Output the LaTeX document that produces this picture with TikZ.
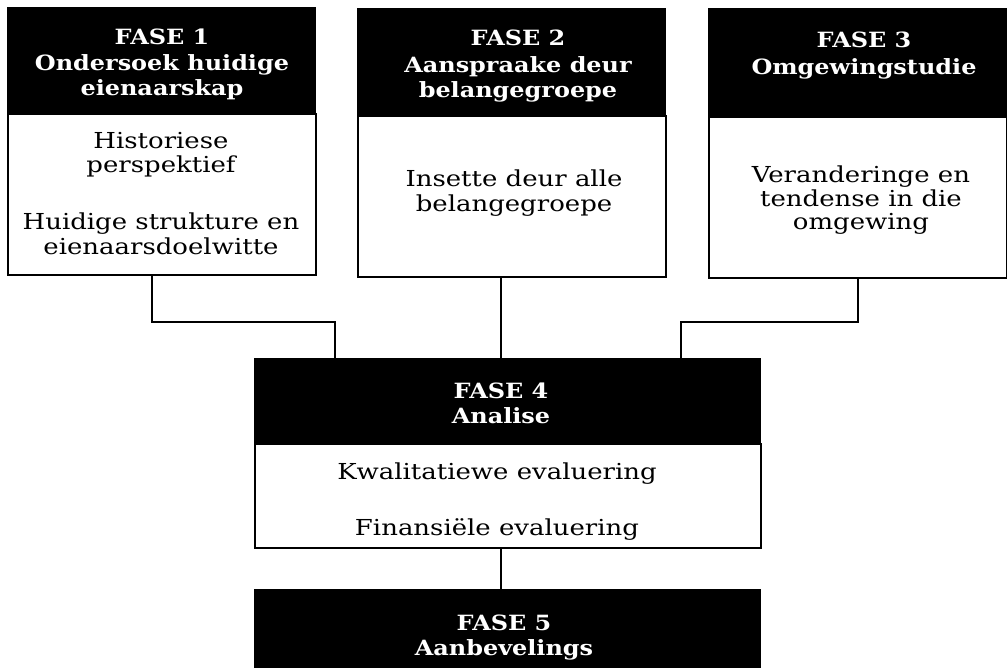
\documentclass[tikz,border=0pt]{standalone}
\usepackage{fontspec}
\setmainfont{DejaVu Serif}
\newfontfamily\headfam{DejaVu Serif}[FakeStretch=1.14]
\newfontfamily\bodyfam{DejaVu Serif}[FakeStretch=1.18]
\newcommand\headfont{\headfam\fontsize{21}{25}\selectfont\bfseries}
\newcommand\bodyfont{\bodyfam\fontsize{22}{25}\selectfont}
\tikzset{
  hdr/.style={draw=black, fill=black, line width=1.2pt, anchor=north west, inner sep=0pt},
  bodybox/.style={draw=black, fill=white, line width=1.8pt, anchor=north west, inner sep=0pt},
  htxt/.style={text=white, font=\headfont, anchor=base, inner sep=0pt},
  btxt/.style={text=black, font=\bodyfont, anchor=base, inner sep=0pt},
  conn/.style={draw=black, line width=1.8pt}
}
\begin{document}
\begin{tikzpicture}[x=1pt, y=-1pt]
\useasboundingbox (0,0) rectangle (1007,668);

% --- phase 1 ---
\node[hdr, minimum width=308pt, minimum height=106pt] (h1) at (7,7) {};
\node[bodybox, minimum width=308pt, minimum height=161pt] (b1) at (7,113) {};
\node[htxt] (h1a) at (162,45) {FASE 1};
\node[htxt] (h1b) at (162,71) {Ondersoek huidige};
\node[htxt] (h1c) at (162,96) {eienaarskap};
\node[btxt] (b1a) at (161,149) {Historiese};
\node[btxt] (b1b) at (161,173) {perspektief};
\node[btxt] (b1c) at (161,230) {Huidige strukture en};
\node[btxt] (b1d) at (161,255) {eienaarsdoelwitte};

% --- phase 2 ---
\node[hdr, minimum width=308pt, minimum height=107pt] (h2) at (357,8) {};
\node[bodybox, minimum width=308pt, minimum height=161pt] (b2) at (357,115) {};
\node[htxt] (h2a) at (518,46) {FASE 2};
\node[htxt] (h2b) at (518,73) {Aanspraake deur};
\node[htxt] (h2c) at (518,98) {belangegroepe};
\node[btxt] (b2a) at (514,187) {Insette deur alle};
\node[btxt] (b2b) at (514,212) {belangegroepe};

% --- phase 3 ---
\node[hdr, minimum width=298pt, minimum height=108pt] (h3) at (708,8) {};
\node[bodybox, minimum width=298pt, minimum height=161pt] (b3) at (708,116) {};
\node[htxt] (h3a) at (864,48) {FASE 3};
\node[htxt] (h3b) at (864,75) {Omgewingstudie};
\node[btxt] (b3a) at (861,183) {Veranderinge en};
\node[btxt] (b3b) at (861,207) {tendense in die};
\node[btxt] (b3c) at (861,230) {omgewing};

% --- phase 4 ---
\node[hdr, minimum width=506pt, minimum height=85pt] (h4) at (254,358) {};
\node[bodybox, minimum width=506pt, minimum height=104pt] (b4) at (254,443) {};
\node[htxt] (h4a) at (501,398) {FASE 4};
\node[htxt] (h4b) at (501,423) {Analise};
\node[btxt] (b4a) at (497,479) {Kwalitatiewe evaluering};
\node[btxt] (b4b) at (497,535) {Finansiële evaluering};

% --- phase 5 ---
\node[hdr, minimum width=506pt, minimum height=85pt] (h5) at (254,589) {};
\node[htxt] (h5a) at (504,630) {FASE 5};
\node[htxt] (h5b) at (504,655) {Aanbevelings};

% --- connectors ---
\coordinate (k1) at (152,322);
\coordinate (k1b) at (335,322);
\coordinate (k2) at (501,322);
\coordinate (k3) at (858,322);
\coordinate (k3b) at (681,322);
\draw[conn] (b1.south -| k1) -- (k1) -- (k1b) -- (h4.north -| k1b);
\draw[conn] (b2.south -| k2) -- (h4.north -| k2);
\draw[conn] (b3.south -| k3) -- (k3) -- (k3b) -- (h4.north -| k3b);
\draw[conn] (b4.south -| k2) -- (h5.north -| k2);
\end{tikzpicture}
\end{document}
